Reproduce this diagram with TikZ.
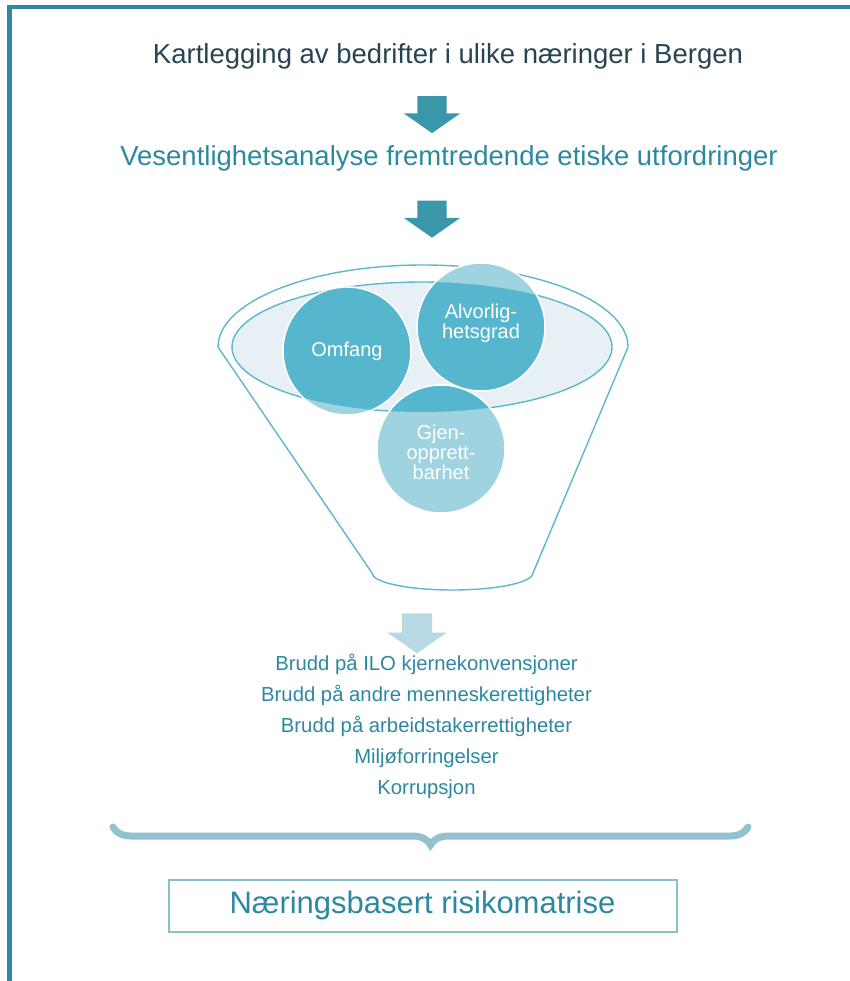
\documentclass[tikz,border=0pt]{standalone}
\usepackage{fontspec}
\setmainfont{Liberation Sans}
\usetikzlibrary{shapes.arrows,decorations.pathreplacing,positioning}
\definecolor{frameteal}{HTML}{2F87A0}
\definecolor{darktext}{HTML}{27444F}
\definecolor{tealtext}{HTML}{2C88A0}
\definecolor{arrowteal}{HTML}{3A97AA}
\definecolor{arrowpale}{HTML}{B8D8E3}
\definecolor{funnelline}{HTML}{5DB7CD}
\definecolor{funnelfill}{HTML}{E6F0F5}
\definecolor{discdark}{HTML}{56B6CE}
\definecolor{disclight}{HTML}{9FD3E0}
\definecolor{palebrace}{HTML}{92C2CF}
\definecolor{boxline}{HTML}{8BBECB}
\begin{document}
\begin{tikzpicture}[x=1pt, y=-1pt,
    headline/.style={font=\fontsize{27.5}{30}\selectfont, anchor=base, inner sep=0pt},
    listline/.style={font=\fontsize{20.3}{22}\selectfont, text=tealtext, anchor=base, inner sep=0pt},
    blockarrow/.style={single arrow, rotate=-90, fill=#1, draw=none, inner sep=0pt,
      inner ysep=14.5pt, minimum height=37pt, single arrow head extend=13.5pt,
      single arrow tip angle=110},
    disc/.style={circle, minimum size=128pt, inner sep=0pt, draw=white, line width=1.5pt},
    disclabel/.style={text=white, align=center, font=\fontsize{20}{20}\selectfont, inner sep=0pt}]
    \useasboundingbox (0, 0) rectangle (850, 981) ;
    % frame
    \draw[frameteal, line width=4.3pt] (9.5, 981) -- (9.5, 7) -- (850, 7) ;
    % headings and arrows
    \node[headline, text=darktext] (kart) at (448, 64) {Kartlegging av bedrifter i ulike næringer i Bergen} ;
    \node[headline, text=tealtext] (vesent) at (449, 166) {Vesentlighetsanalyse fremtredende etiske utfordringer} ;
    \node[blockarrow=arrowteal] (arr1) at (432, 109.5) {} ;
    \node[blockarrow=arrowteal] (arr2) at (432, 214) {} ;
    % funnel
    \fill[funnelfill] (422, 347) ellipse (190 and 65) ;
    \draw[funnelline, line width=1.4pt, line join=round]
      (218, 347) arc[start angle=180, end angle=360, x radius=205, y radius=82]
      -- (533, 573) arc[start angle=0, end angle=180, x radius=80.5, y radius=17]
      -- cycle ;
    \draw[funnelline, line width=1.4pt] (422, 347) ellipse (190 and 65) ;
    % three discs, darker inside the rim
    \node[disc, fill=disclight] (omfang) at (347, 351) {} ;
    \node[disc, fill=disclight] (alvor) at (481, 327) {} ;
    \node[disc, fill=disclight] (gjen) at (441, 449) {} ;
    \begin{scope}
      \clip (422, 347) ellipse (190 and 65) ;
      \node[disc, fill=discdark] (omfangin) at (omfang) {} ;
      \node[disc, fill=discdark] (alvorin) at (alvor) {} ;
      \node[disc, fill=discdark] (gjenin) at (gjen) {} ;
    \end{scope}
    \node[disclabel] (omfangtxt) at (omfang) {Omfang} ;
    \node[disclabel] (alvortxt) at (481, 323) {Alvorlig-\\hetsgrad} ;
    \node[disclabel] (gjentxt) at (441, 452) {Gjen-\\opprett-\\barhet} ;
    % result list
    \node[blockarrow=arrowpale, inner ysep=15pt, minimum height=40pt, single arrow head extend=14.5pt] (arr3) at (417, 628) {} ;
    \node[listline] (brudd1) at (426.5, 670) {Brudd på ILO kjernekonvensjoner} ;
    \node[listline] (brudd2) at (426.5, 701) {Brudd på andre menneskerettigheter} ;
    \node[listline] (brudd3) at (426.5, 732.5) {Brudd på arbeidstakerrettigheter} ;
    \node[listline] (miljo) at (426.5, 763) {Miljøforringelser} ;
    \node[listline] (korr) at (426.5, 794) {Korrupsjon} ;
    % brace and matrix box
    \coordinate (braceleft) at (113, 827) ;
    \coordinate (braceright) at (748, 827) ;
    \draw[palebrace, line width=7pt, line cap=round, decorate,
      decoration={brace, mirror, amplitude=18pt}] (braceleft) -- (braceright) ;
    \node[draw=boxline, line width=2pt, minimum width=508pt, minimum height=52pt,
      text=tealtext, font=\fontsize{31}{34}\selectfont] (matrise) at (422.5, 905.5) {Næringsbasert risikomatrise} ;
\end{tikzpicture}
\end{document}
